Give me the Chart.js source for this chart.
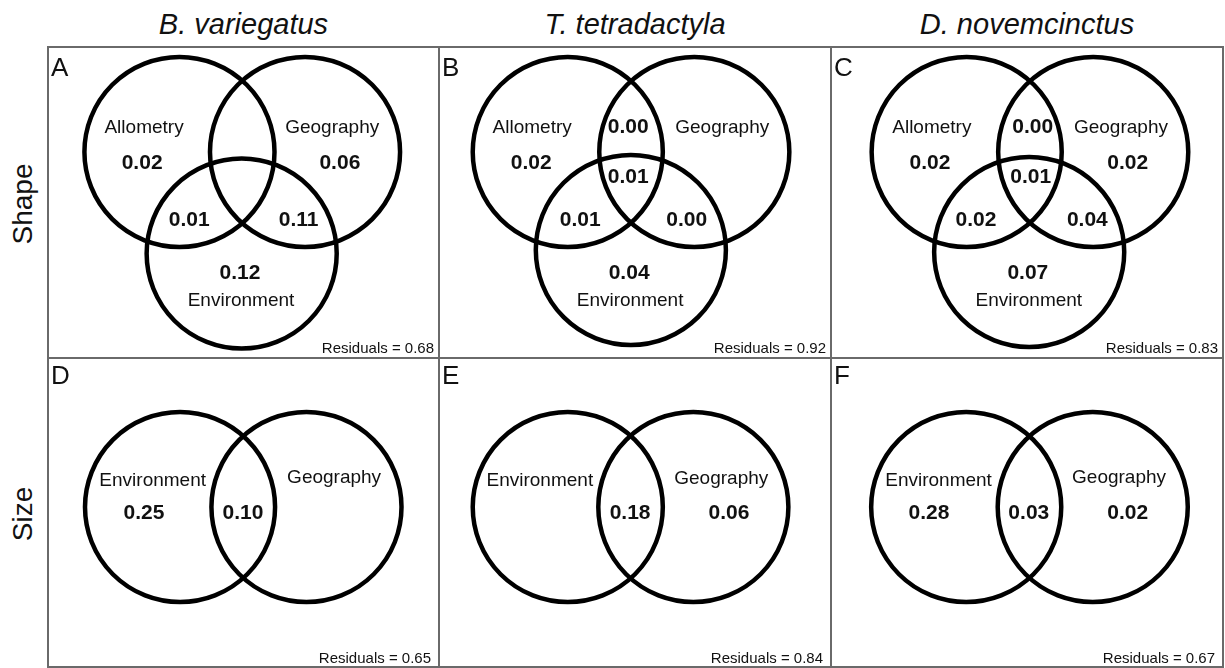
<!DOCTYPE html>
<html>
<head>
<meta charset="utf-8">
<script src="https://cdn.jsdelivr.net/npm/chart.js@4.4.1/dist/chart.umd.min.js"></script>
<style>
  html, body { margin: 0; padding: 0; background: #fff; }
  body { width: 1225px; height: 668px; position: relative; overflow: hidden; font-family: "Liberation Sans", Arial, sans-serif; color: #111; }
  .frame { position: absolute; left: 47px; top: 46px; width: 1177px; height: 622px; border: 2px solid #6a6a6a; box-sizing: border-box; }
  .vline { position: absolute; top: 46px; width: 2px; height: 622px; background: #6a6a6a; }
  .hline { position: absolute; left: 47px; top: 357px; width: 1177px; height: 2px; background: #6a6a6a; }
  .title { position: absolute; top: 10px; font-size: 29px; line-height: 29px; font-style: italic; text-align: center; white-space: nowrap; }
  .rowlab { position: absolute; left: -37px; width: 120px; height: 28px; font-size: 28px; line-height: 28px; text-align: center; transform: rotate(-90deg); }
  canvas { position: absolute; }
</style>
</head>
<body>
<div class="frame"></div>
<div class="vline" style="left:438px"></div>
<div class="vline" style="left:830px"></div>
<div class="hline"></div>
<div id="titles"></div>
<div id="rowlabs"></div>
<div id="panels"></div>

<script>
// ---- data ----
const species = ['B. variegatus', 'T. tetradactyla', 'D. novemcinctus'];
const rowNames = ['Shape', 'Size'];
const panelLetters = ['A', 'B', 'C', 'D', 'E', 'F'];
const residuals = [0.68, 0.92, 0.83, 0.65, 0.84, 0.67];

const shapeFactors = ['Allometry', 'Geography', 'Environment'];
const sizeFactors = ['Environment', 'Geography'];

// shape fractions: [Allo only, Geo only, Env only, Allo&Geo, Allo&Env, Geo&Env, all three]
const shapeBvar = [0.02, 0.06, 0.12, null, 0.01, 0.11, null];
const shapeTtet = [0.02, null, 0.04, 0.00, 0.01, 0.00, 0.01];
const shapeDnov = [0.02, 0.02, 0.07, 0.00, 0.02, 0.04, 0.01];

// size fractions: [Env only, Geo only, Env&Geo]
const sizeBvar = [0.25, null, 0.10];
const sizeTtet = [null, 0.06, 0.18];
const sizeDnov = [0.28, 0.02, 0.03];

// ---- venn layout, in units of circle radius ----
const PX = 96;        // pixels per unit
const R = 0.99;       // circle radius

const circlesA = [[1.359, 1.083], [2.667, 1.083], [2.007, 2.141]];
const circlesB = [[1.331, 1.083], [2.649, 1.083], [1.988, 2.104]];
const circlesC = [[1.403, 1.083], [2.721, 1.083], [2.054, 2.125]];
const circlesD = [[1.365, 1.542], [2.682, 1.542]];
const circlesE = [[1.331, 1.542], [2.639, 1.542]];
const circlesF = [[1.398, 1.542], [2.716, 1.542]];

const namePosA = [[0.99, 0.83], [2.95, 0.83], [2.00, 2.63]];
const namePosB = [[0.96, 0.83], [2.94, 0.83], [1.98, 2.63]];
const namePosC = [[1.04, 0.83], [3.01, 0.83], [2.05, 2.63]];
const namePosD = [[1.08, 1.27], [2.97, 1.24]];
const namePosE = [[1.04, 1.27], [2.93, 1.25]];
const namePosF = [[1.11, 1.27], [2.99, 1.24]];

const valuePosA = [[0.97, 1.20], [3.03, 1.20], [1.99, 2.35], null, [1.46, 1.79], [2.60, 1.79], null];
const valuePosB = [[0.95, 1.20], null, [1.97, 2.35], [1.96, 0.83], [1.46, 1.79], [2.57, 1.79], [1.96, 1.35]];
const valuePosC = [[1.02, 1.20], [3.08, 1.20], [2.04, 2.35], [2.09, 0.83], [1.50, 1.79], [2.66, 1.79], [2.07, 1.35]];
const valuePosD = [[0.99, 1.61], null, [2.02, 1.61]];
const valuePosE = [null, [3.01, 1.61], [1.98, 1.61]];
const valuePosF = [[1.01, 1.61], [3.08, 1.61], [2.05, 1.61]];

// page cells for the six panels
const colLeft = [49, 440, 832];
const colWidth = [389, 390, 390];
const rowTop = [48, 359];
const rowHeight = [309, 307];

const panels = [
  { names: shapeFactors, values: shapeBvar, circles: circlesA, namePos: namePosA, valuePos: valuePosA },
  { names: shapeFactors, values: shapeTtet, circles: circlesB, namePos: namePosB, valuePos: valuePosB },
  { names: shapeFactors, values: shapeDnov, circles: circlesC, namePos: namePosC, valuePos: valuePosC },
  { names: sizeFactors, values: sizeBvar, circles: circlesD, namePos: namePosD, valuePos: valuePosD },
  { names: sizeFactors, values: sizeTtet, circles: circlesE, namePos: namePosE, valuePos: valuePosE },
  { names: sizeFactors, values: sizeDnov, circles: circlesF, namePos: namePosF, valuePos: valuePosF }
];

const FONT = '"Liberation Sans", Arial, sans-serif';

// column titles and row labels as html text
species.forEach((s, i) => {
  const d = document.createElement('div');
  d.className = 'title';
  d.style.left = colLeft[i] + 'px';
  d.style.width = colWidth[i] + 'px';
  d.textContent = s;
  document.getElementById('titles').appendChild(d);
});
const rowLabelY = [204, 514];
rowNames.forEach((r, i) => {
  const d = document.createElement('div');
  d.className = 'rowlab';
  d.style.top = (rowLabelY[i] - 14) + 'px';
  d.textContent = r;
  document.getElementById('rowlabs').appendChild(d);
});

// draws region names, fractions, panel letter and residuals
function vennText(panel, idx) {
  const row = idx < 3 ? 0 : 1;
  return {
    id: 'vennText' + idx,
    afterDatasetsDraw(chart) {
      const { ctx, scales: { x, y } } = chart;
      ctx.save();
      ctx.fillStyle = '#111';
      ctx.textAlign = 'center';
      ctx.textBaseline = 'middle';
      ctx.font = '19px ' + FONT;
      panel.names.forEach((n, i) => {
        const p = panel.namePos[i];
        ctx.fillText(n, x.getPixelForValue(p[0]), y.getPixelForValue(p[1]));
      });
      ctx.font = 'bold 21px ' + FONT;
      panel.values.forEach((v, i) => {
        const p = panel.valuePos[i];
        if (v === null || !p) return;
        ctx.fillText(v.toFixed(2), x.getPixelForValue(p[0]), y.getPixelForValue(p[1]));
      });
      // panel letter
      ctx.textAlign = 'left';
      ctx.font = '26px ' + FONT;
      ctx.fillText(panelLetters[idx], 2, row === 0 ? 20.5 : 17.5);
      // residuals
      ctx.textAlign = 'right';
      ctx.textBaseline = 'alphabetic';
      ctx.font = '15px ' + FONT;
      const padR = row === 0 ? 4 : 7;
      const padB = row === 0 ? 4.3 : 2.7;
      ctx.fillText('Residuals = ' + residuals[idx].toFixed(2), chart.width - padR, chart.height - padB);
      ctx.restore();
    }
  };
}

panels.forEach((panel, idx) => {
  const col = idx % 3, row = idx < 3 ? 0 : 1;
  const w = colWidth[col], h = rowHeight[row];
  const cv = document.createElement('canvas');
  cv.width = w; cv.height = h;
  cv.style.left = colLeft[col] + 'px';
  cv.style.top = rowTop[row] + 'px';
  cv.style.width = w + 'px';
  cv.style.height = h + 'px';
  document.getElementById('panels').appendChild(cv);

  const chart = new Chart(cv.getContext('2d'), {
    type: 'bubble',
    data: {
      datasets: [{
        data: panel.circles.map(c => ({ x: c[0], y: c[1], r: 1 })),
        backgroundColor: 'rgba(0,0,0,0)',
        borderColor: '#000',
        borderWidth: 4.5,
        hoverBorderWidth: 4.5,
        clip: false
      }]
    },
    options: {
      responsive: false,
      animation: false,
      events: [],
      layout: { padding: 0, autoPadding: false },
      scales: {
        x: { type: 'linear', min: 0, max: w / PX, display: false },
        y: { type: 'linear', min: 0, max: h / PX, reverse: true, display: false }
      },
      plugins: { legend: { display: false }, tooltip: { enabled: false } }
    },
    plugins: [vennText(panel, idx)]
  });

  // bubble r is in pixels: convert the circle radius through the x scale
  const sx = chart.scales.x;
  const rPx = Math.abs(sx.getPixelForValue(R) - sx.getPixelForValue(0));
  chart.data.datasets[0].data.forEach(d => { d.r = rPx; });
  chart.update();
});
</script>
</body>
</html>
